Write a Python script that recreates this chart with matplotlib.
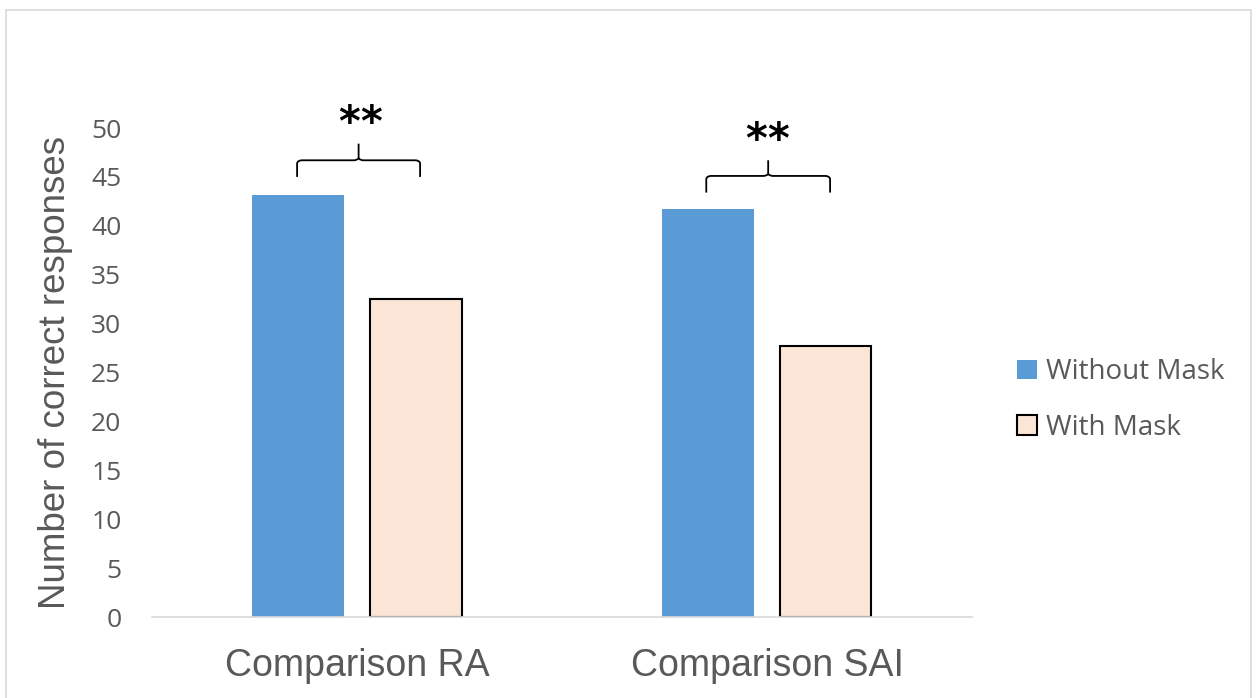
import numpy as np
import matplotlib.pyplot as plt
from matplotlib.path import Path
from matplotlib.patches import PathPatch, Rectangle

categories = ['Comparison RA', 'Comparison SAI']
without_mask = [43.2, 41.7]
with_mask = [32.5, 27.7]
series_names = ['Without Mask', 'With Mask']
yticks = [0, 5, 10, 15, 20, 25, 30, 35, 40, 45, 50]

blue = '#5B9BD5'
peach = '#FBE5D6'
grey = '#595959'

fig = plt.figure(figsize=(12.59, 6.98), dpi=100)
ax = fig.add_axes([0.1207, 0.116, 0.6513, 0.7006])

x = np.arange(len(categories))
w = 0.224
off = 0.143
ax.bar(x - off, without_mask, w, color=blue, label=series_names[0])
ax.bar(x + off, with_mask, w, color=peach, edgecolor='black', linewidth=1.5, label=series_names[1])

ax.set_xlim(-0.5, 1.5)
ax.set_ylim(0, 50)
ax.set_yticks(yticks)
ax.set_xticks(x)
ax.set_xticklabels(categories, fontsize=27, color=grey, family='Liberation Sans')
for lab in ax.get_yticklabels():
    lab.set_fontsize(19)
    lab.set_color(grey)
    lab.set_family('Open Sans')
ax.tick_params(axis='both', length=0)
ax.tick_params(axis='x', pad=22)
ax.tick_params(axis='y', pad=22)
for s in ['top', 'right', 'left']:
    ax.spines[s].set_visible(False)
ax.spines['bottom'].set_color('#d9d9d9')
ax.spines['bottom'].set_linewidth(1.2)
ax.set_ylabel('Number of correct responses', fontsize=26.5, color=grey, family='Liberation Sans', labelpad=13)


def brace(x0, x1, yb, h, tip):
    # curly brace opening downward, drawn in data coords
    xm = (x0 + x1) / 2
    r = 0.012
    verts = [(x0, yb - h), (x0, yb - 0.3), (x0 + 0.002, yb), (x0 + r, yb),
             (xm - r, yb), (xm - 0.004, yb), (xm, yb + 0.2), (xm, yb + tip)]
    codes = [Path.MOVETO, Path.LINETO, Path.CURVE3, Path.CURVE3,
             Path.LINETO, Path.CURVE3, Path.CURVE3, Path.LINETO]
    verts2 = [(x1, yb - h), (x1, yb - 0.3), (x1 - 0.002, yb), (x1 - r, yb),
              (xm + r, yb), (xm + 0.004, yb), (xm, yb + 0.2)]
    codes2 = [Path.MOVETO, Path.LINETO, Path.CURVE3, Path.CURVE3,
              Path.LINETO, Path.CURVE3, Path.CURVE3]
    for v, c in [(verts, codes), (verts2, codes2)]:
        ax.add_patch(PathPatch(Path(v, c), fill=False, lw=1.3, color='black', clip_on=False))


def stars(xc, yc):
    for dx in (-8, 8):
        ax.annotate('*', (xc, yc), xytext=(dx, 0), textcoords='offset points',
                    ha='center', va='center', fontsize=30, fontweight='bold',
                    family='DejaVu Sans', annotation_clip=False)


brace(-0.146, 0.154, 46.7, 1.7, 1.7)
stars(0.007, 50.4)
brace(0.852, 1.154, 45.1, 1.7, 1.6)
stars(1.0, 48.7)

leg = fig.legend(loc='upper left', bbox_to_anchor=(0.788, 0.523), frameon=False,
                 handlelength=0.7, handleheight=0.7, handletextpad=0.35,
                 labelspacing=1.0, prop={'family': 'Open Sans', 'size': 20})
for t in leg.get_texts():
    t.set_color(grey)

fig.patches.append(Rectangle((0.005, -0.01), 0.989, 0.996, transform=fig.transFigure,
                             fill=False, edgecolor='#d9d9d9', linewidth=1.2))

fig.savefig('out.png', dpi=100)
